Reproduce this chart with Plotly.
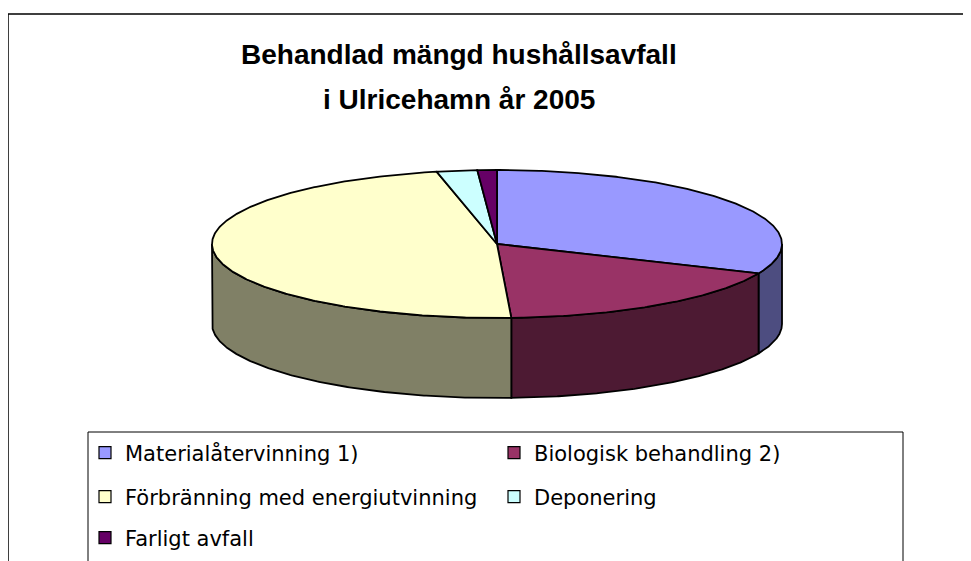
import numpy as np
import plotly.graph_objects as go

# ---- data ----
categories = ["Materialåtervinning 1)", "Biologisk behandling 2)",
              "Förbränning med energiutvinning", "Deponering", "Farligt avfall"]
values = [31.5, 17.7, 47.4, 2.3, 1.1]
top_colors = ["#9999FF", "#993366", "#FFFFCC", "#CCFFFF", "#660066"]
side_colors = ["#4D4D80", "#4D1A33", "#808066", "#668080", "#330033"]
title_lines = ["Behandlad mängd hushållsavfall", "i Ulricehamn år 2005"]

W, H = 971, 561          # page size
OFF = 8                  # default body margin of the html page
FW, FH = W - OFF, H - OFF
# geometry of the pseudo-3D pie (page pixel space)
CX, CY, RX, RY, DEPTH = 497, 244, 285, 74, 80
LINE = dict(color="black", width=1.8)

fig = go.Figure()


def pt(theta_deg, dy=0.0):
    t = np.radians(theta_deg)
    return CX + RX * np.sin(t), CY - RY * np.cos(t) + dy


total = sum(values)
bounds = np.concatenate([[0], np.cumsum(values)]) / total * 360.0

# side walls (visible front half: 90..270 deg clockwise from 12 o'clock)
for i in range(len(values)):
    a, b = max(bounds[i], 90), min(bounds[i + 1], 270)
    if b <= a:
        continue
    th = np.linspace(a, b, 200)
    xs_t, ys_t = pt(th)
    xs_b, ys_b = pt(th[::-1], DEPTH)
    xs = np.concatenate([xs_t, xs_b, xs_t[:1]])
    ys = np.concatenate([ys_t, ys_b, ys_t[:1]])
    fig.add_trace(go.Scatter(x=xs, y=ys, mode="lines", fill="toself",
                             fillcolor=side_colors[i], line=LINE,
                             hoverinfo="skip", showlegend=False))

# top faces
for i in range(len(values)):
    a, b = bounds[i], bounds[i + 1]
    th = np.linspace(a, b, max(int((b - a) * 2), 4))
    xs_a, ys_a = pt(th)
    xs = np.concatenate([[CX], xs_a, [CX]])
    ys = np.concatenate([[CY], ys_a, [CY]])
    fig.add_trace(go.Scatter(x=xs, y=ys, mode="lines", fill="toself",
                             fillcolor=top_colors[i], line=LINE,
                             hoverinfo="skip", showlegend=False))

# legend entries (three legend rows)
legend_of = ["legend", "legend", "legend2", "legend2", "legend3"]
for i, name in enumerate(categories):
    fig.add_trace(go.Scatter(x=[None], y=[None], mode="markers", name=name,
                             marker=dict(symbol="square", size=12, color=top_colors[i],
                                         line=dict(color="black", width=1.2)),
                             legend=legend_of[i], showlegend=True))


def py(page_y):
    return 1 - (page_y - OFF) / FH


leg_common = dict(orientation="h", x=77 / FW, xanchor="left", yanchor="middle",
                  entrywidth=364, entrywidthmode="pixels",
                  bgcolor="rgba(0,0,0,0)", borderwidth=0,
                  font=dict(family="DejaVu Sans", size=21, color="black"))

title_font = dict(family="Liberation Sans, Arial", size=28, color="black")

fig.update_layout(
    width=FW, height=FH,
    margin=dict(l=0, r=0, t=0, b=0),
    paper_bgcolor="white", plot_bgcolor="white",
    xaxis=dict(range=[OFF, W], visible=False, fixedrange=True),
    yaxis=dict(range=[H, OFF], visible=False, fixedrange=True),
    legend=dict(leg_common, y=py(453)),
    legend2=dict(leg_common, y=py(497)),
    legend3=dict(leg_common, y=py(538)),
    annotations=[
        dict(text="<b>" + title_lines[0] + "</b>", x=459, y=54.5, xref="x", yref="y",
             xanchor="center", yanchor="middle", showarrow=False, font=title_font),
        dict(text="<b>" + title_lines[1] + "</b>", x=459, y=99.5, xref="x", yref="y",
             xanchor="center", yanchor="middle", showarrow=False, font=title_font),
    ],
    shapes=[
        dict(type="rect", xref="x", yref="y", x0=8, y0=14, x1=W + 5, y1=H + 5,
             line=dict(color="black", width=1.5), layer="below"),
        dict(type="rect", xref="x", yref="y", x0=88, y0=432, x1=903, y1=H + 5,
             line=dict(color="black", width=1), layer="below"),
    ],
)

fig.write_html("out.html")
